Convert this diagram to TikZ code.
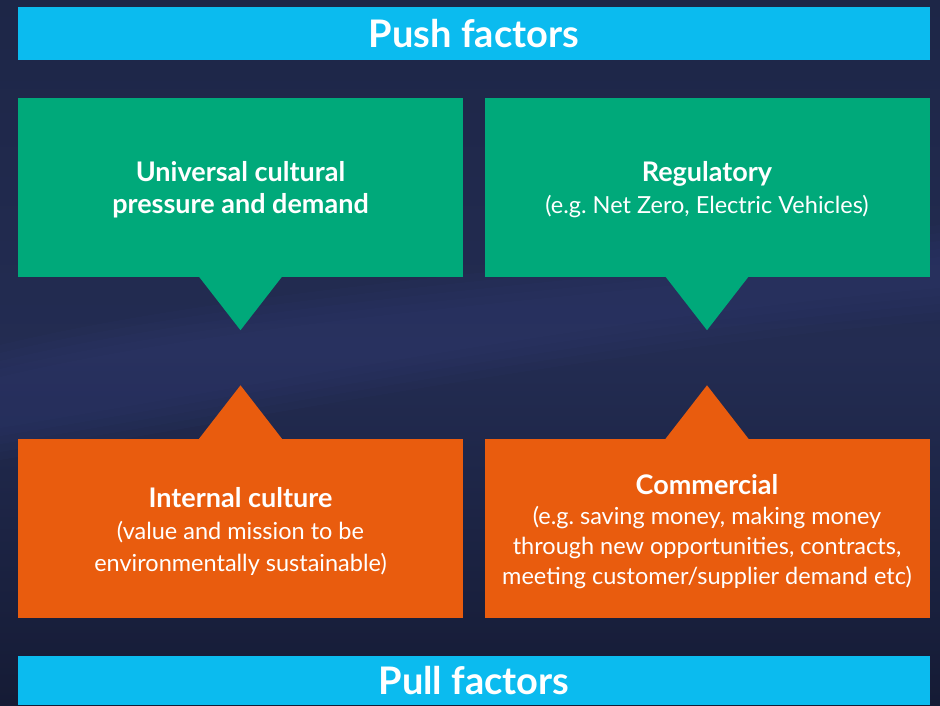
\documentclass[tikz,border=0pt]{standalone}
\usepackage{fontspec}
\setmainfont{Lato}
\frenchspacing
\definecolor{navytop}{HTML}{1D2647}
\definecolor{navymid}{HTML}{232C52}
\definecolor{navybot}{HTML}{151B35}
\definecolor{hillblue}{HTML}{34407A}
\definecolor{barcyan}{HTML}{0BBBEF}
\definecolor{pushgreen}{HTML}{00A97A}
\definecolor{pullorange}{HTML}{E95C0E}
\newcommand\factortitle{\fontsize{27}{32}\selectfont\bfseries}
\tikzset{
  headbar/.style={fill=barcyan, text=white, minimum width=912pt, inner sep=0pt,
    font=\fontsize{38}{44}\selectfont\bfseries},
  factorbox/.style={minimum width=445pt, minimum height=179pt, inner sep=0pt},
  pushbox/.style={factorbox, fill=pushgreen},
  pullbox/.style={factorbox, fill=pullorange},
  boxtext/.style={align=center, text=white, inner sep=0pt,
    font=\fontsize{23.5}{32}\selectfont}
}
\begin{document}
\begin{tikzpicture}[x=1pt,y=-1pt]
  \useasboundingbox (0,0) rectangle (940,705);
  % dark backdrop with a soft, faint hill slope across the middle
  \shade[top color=navytop, bottom color=navybot, middle color=navymid] (0,0) rectangle (940,705);
  \foreach \d in {0,8,16,24,32} {
    \fill[hillblue, opacity=0.09]
      (0,{345+\d}) .. controls (250,{285+\d}) and (600,{265+\d}) .. (940,{225+\d})
      -- (940,{320-\d}) .. controls (600,{350-\d}) and (300,{410-\d}) .. (0,{460-\d}) -- cycle;
  }

  % header bars
  \node[headbar, minimum height=53pt] (push) at (474,33.5) {Push factors};
  \node[headbar, minimum height=49pt] (pull) at (474,680.5) {Pull factors};

  % push factor boxes
  \node[pushbox] (culture) at (240.5,187.5) {};
  \node[pushbox] (regul) at (707,187.5) {};
  % pull factor boxes
  \node[pullbox] (internal) at (240.5,528) {};
  \node[pullbox] (commerce) at (707,528) {};

  % pointers from push boxes downward
  \foreach \b in {culture, regul} {
    \fill[pushgreen] ([xshift=-41.5pt, yshift=0.5pt]\b.south) -- ([yshift=-53pt]\b.south)
      -- ([xshift=41.5pt, yshift=0.5pt]\b.south) -- cycle;
  }
  % pointers from pull boxes upward
  \foreach \b in {internal, commerce} {
    \fill[pullorange] ([xshift=-41.5pt, yshift=-0.5pt]\b.north) -- ([yshift=53pt]\b.north)
      -- ([xshift=41.5pt, yshift=-0.5pt]\b.north) -- cycle;
  }

  % box texts
  \node[boxtext] (cultureText) at ([yshift=-2pt]culture.center)
    {{\factortitle Universal cultural}\\{\factortitle pressure and demand}};
  \node[boxtext] (regulText) at ([yshift=-2pt]regul.center)
    {{\factortitle Regulatory}\\(e.g. Net Zero, Electric Vehicles)};
  \node[boxtext] (internalText) at ([yshift=-3pt]internal.center)
    {{\factortitle Internal culture}\\(value and mission to be\\environmentally sustainable)};
  \node[boxtext] (commerceText) at ([yshift=-4pt]commerce.center)
    {{\factortitle Commercial}\\[-2pt](e.g. saving money, making money\\[-2pt]through new opportunities, contracts,\\[-2pt]meeting customer/supplier demand etc)};
\end{tikzpicture}
\end{document}
